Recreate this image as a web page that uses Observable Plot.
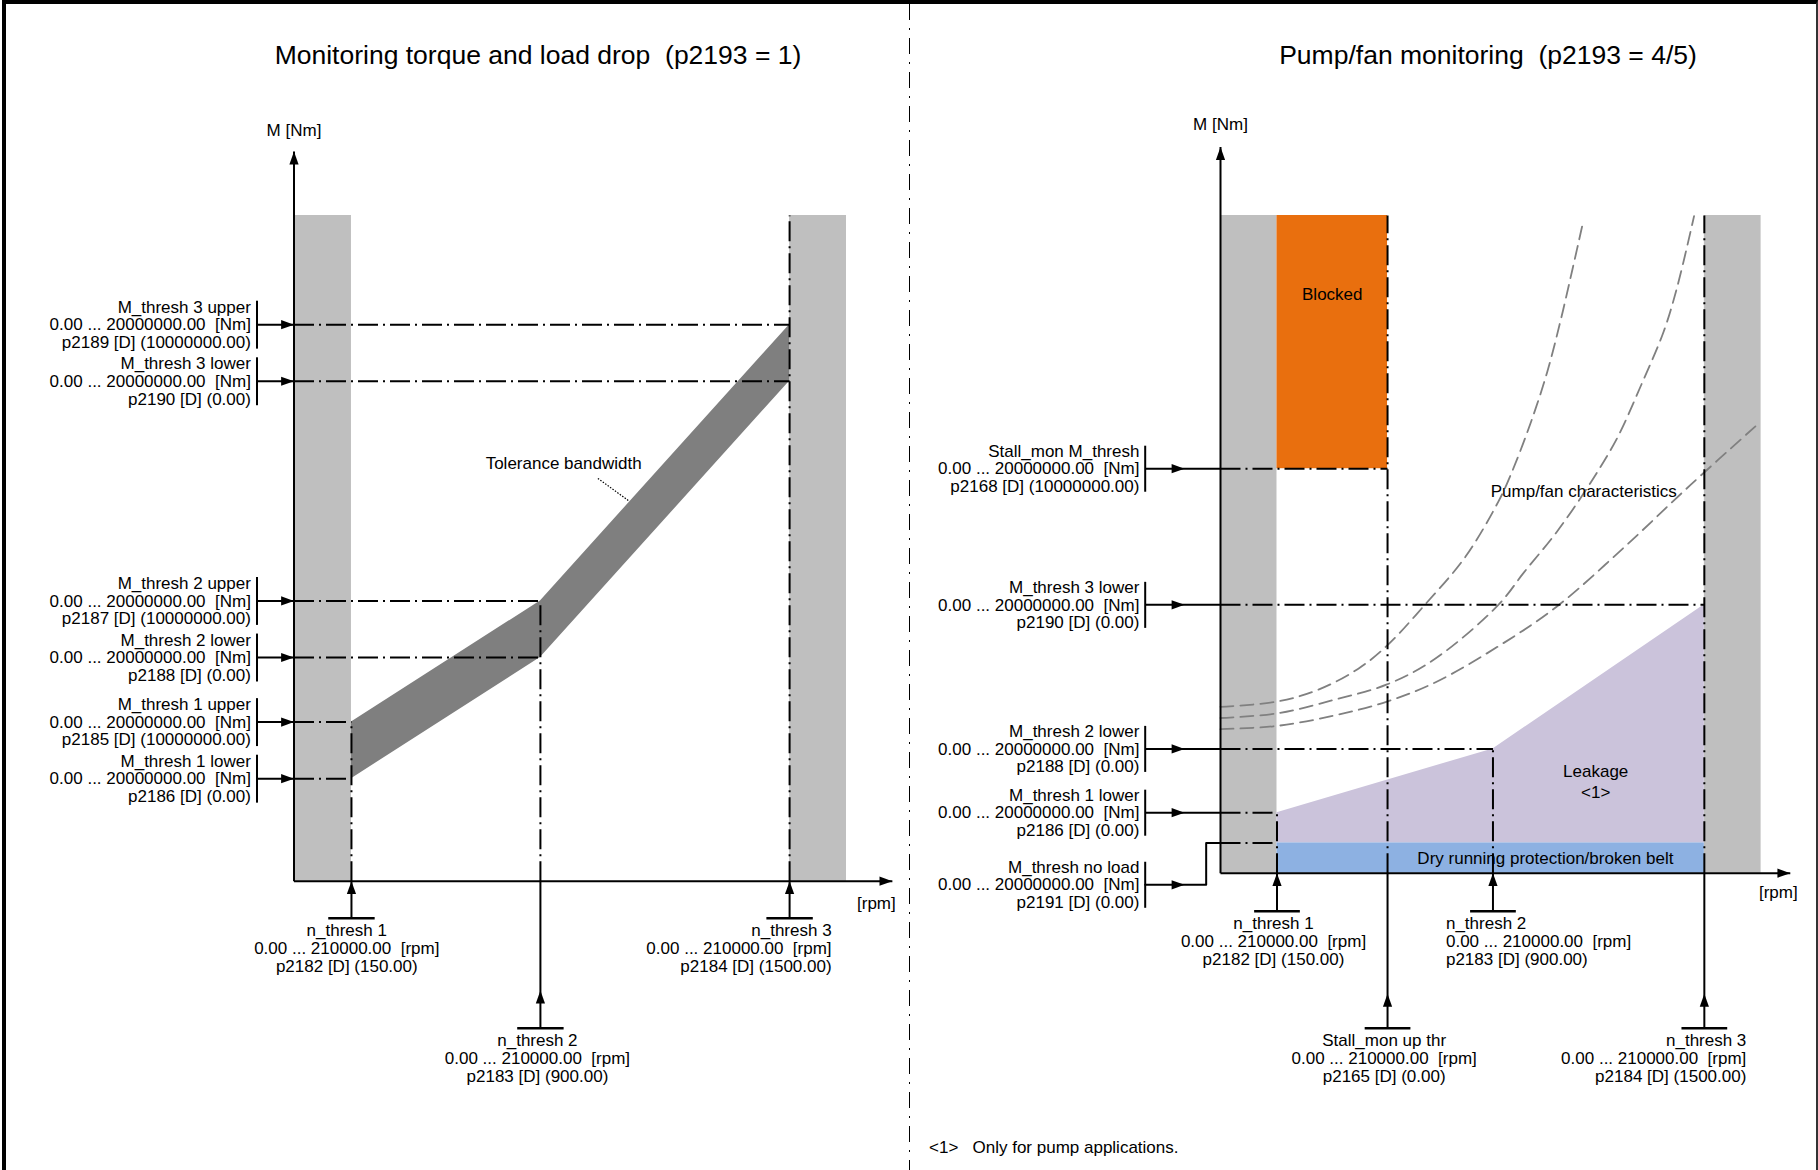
<!DOCTYPE html>
<html>
<head>
<meta charset="utf-8">
<script src="https://cdn.jsdelivr.net/npm/d3@7"></script>
<script src="https://cdn.jsdelivr.net/npm/@observablehq/plot@0.6"></script>
<style>
  html, body { margin: 0; padding: 0; background: #fff; }
  #page { position: relative; width: 1818px; height: 1170px; overflow: hidden;
          font-family: "Liberation Sans", Arial, Helvetica, sans-serif; color: #000; }
  #left, #right { position: absolute; top: 0; }
  #left { left: 0; }
  #right { left: 909px; }
  svg text { white-space: pre; }
  .title { position: absolute; font-size: 26.5px; line-height: 1; white-space: pre;
           transform: translate(-50%, -50%); }
  .note { position: absolute; font-size: 17px; line-height: 1; white-space: pre; }
  #frame { position: absolute; left: 2px; top: 0; width: 1816px; height: 1170px; box-sizing: border-box;
           border-top: 4px solid #000; border-left: 4px solid #000; border-right: 2px solid #333; pointer-events: none; }
  #divider { position: absolute; left: 908.5px; top: 4px; width: 1.8px; height: 1166px;
             background: repeating-linear-gradient(to bottom, #000 0 16px, transparent 16px 24px, #000 24px 26px, transparent 26px 34px); }
</style>
</head>
<body>
<div id="page">
  <div id="left"></div>
  <div id="right"></div>
  <div id="divider"></div>
  <div id="frame"></div>
  <div class="title" style="left:538px; top:55px;">Monitoring torque and load drop  (p2193 = 1)</div>
  <div class="title" style="left:1488px; top:55px;">Pump/fan monitoring  (p2193 = 4/5)</div>
  <div class="note" style="left:929px; top:1139px;">&lt;1&gt;   Only for pump applications.</div>
</div>
<script>
// ================= DATA (schematic units: 0 = axis origin, 100 = edge of the grey limit bands) =================
const speedRangeText = "0.00 ... 210000.00  [rpm]";
const torqueRangeText = "0.00 ... 20000000.00  [Nm]";

// ---- Left: Monitoring torque and load drop (p2193 = 1)
const leftSpeedNames  = ["n_thresh 1", "n_thresh 2", "n_thresh 3"];
const leftSpeedParams = ["p2182 [D] (150.00)", "p2183 [D] (900.00)", "p2184 [D] (1500.00)"];
const leftSpeedPos    = [10.4, 44.6, 89.7];

const leftTorqueNames  = ["M_thresh 3 upper", "M_thresh 3 lower", "M_thresh 2 upper", "M_thresh 2 lower", "M_thresh 1 upper", "M_thresh 1 lower"];
const leftTorqueParams = ["p2189 [D] (10000000.00)", "p2190 [D] (0.00)", "p2187 [D] (10000000.00)", "p2188 [D] (0.00)", "p2185 [D] (10000000.00)", "p2186 [D] (0.00)"];
const leftTorquePos    = [83.6, 75.1, 42.1, 33.6, 23.9, 15.4];
const leftTorqueSpeedIndex = [2, 2, 1, 1, 0, 0];   // which speed threshold each torque threshold belongs to

// ---- Right: Pump/fan monitoring (p2193 = 4/5)
const rightSpeedNames  = ["n_thresh 1", "Stall_mon up thr", "n_thresh 2", "n_thresh 3"];
const rightSpeedParams = ["p2182 [D] (150.00)", "p2165 [D] (0.00)", "p2183 [D] (900.00)", "p2184 [D] (1500.00)"];
const rightSpeedPos    = [10.45, 30.9, 50.4, 89.5];

const rightTorqueNames  = ["Stall_mon M_thresh", "M_thresh 3 lower", "M_thresh 2 lower", "M_thresh 1 lower", "M_thresh no load"];
const rightTorqueParams = ["p2168 [D] (10000000.00)", "p2190 [D] (0.00)", "p2188 [D] (0.00)", "p2186 [D] (0.00)", "p2191 [D] (0.00)"];
const rightTorquePos    = [61.5, 40.8, 18.9, 9.2, 4.6];

// Pump/fan characteristics (three dashed curves)
const pumpCurve1Speed  = [0, 10.5, 18.1, 25.5, 30.8, 37.9, 45.3, 51.4, 53.6, 57.3, 60.4, 62.9, 65.1, 67.1];
const pumpCurve1Torque = [25.3, 26.1, 27.9, 31.1, 34.6, 40.9, 48.1, 56.5, 60.4, 68.3, 76.1, 84.0, 91.8, 99.1];
const pumpCurve2Speed  = [0, 10.5, 21.2, 30.8, 39.7, 51.4, 56.1, 62.3, 68.4, 73.4, 77.7, 82.0, 84.5, 87.6];
const pumpCurve2Torque = [23.6, 24.3, 26.4, 28.7, 32.6, 40.8, 45.7, 52.0, 59.3, 66.2, 74.0, 82.4, 89.2, 99.9];
const pumpCurve3Speed  = [0, 10.5, 21.2, 30.8, 39.7, 51.4, 62.3, 74.6, 86.9, 99.3];
const pumpCurve3Torque = [21.9, 22.4, 24.0, 26.1, 29.0, 34.5, 40.6, 49.5, 59.0, 68.2];

// ================= STYLE / LAYOUT =================
const FONT = '"Liberation Sans", Arial, Helvetica, sans-serif';
const FS = 17, LH = 1.04;
const GREY = "#bfbfbf", DARK = "#7f7f7f", ORANGE = "#e96f0e", LAVENDER = "#cbc3db", BLUE = "#8db1e2", CURVE = "#808080";
const DASHDOT = "20,5,2,5";

const arrowHead = { // filled triangle, tip at the origin, pointing to +x
  draw(ctx, size) {
    const r = Math.sqrt(size / Math.PI);
    ctx.moveTo(0, 0);
    ctx.lineTo(-2.8 * r, -r);
    ctx.lineTo(-2.8 * r, r);
    ctx.closePath();
  }
};

const leftLayout = {
  width: 909, mL: 293.5, mR: 63, mT: 215, mB: 289.3,
  yTip: 109.6, xTip: 108.3, nmDy: -21, rpmDx: -16, rpmDy: 22,
  labelX: -7.8, barX: -6.7, tipX: 0, barHalf: 3.6, speedBarHalf: 4.2,
  speed: [
    {anchor: "middle", dx: -4.7, barY: -5.56, tipY: 0},
    {anchor: "middle", dx: -3, barY: -22.08, tipY: -16.42},
    {anchor: "end", dx: 42, barY: -5.56, tipY: 0}
  ]
};
const rightLayout = {
  width: 909, mL: 311, mR: 57.4, mT: 215, mB: 297.3,
  yTip: 110.4, xTip: 105.4, nmDy: -22.7, rpmDx: -12, rpmDy: 19,
  labelX: -15.0, barX: -13.93, tipX: -6.66, barHalf: 3.5, speedBarHalf: 4.23,
  noLoadLabelY: -1.76, noLoadBendX: -2.65,
  speed: [
    {anchor: "middle", dx: -3.5, barY: -5.78, tipY: 0},
    {anchor: "middle", dx: -3.4, barY: -23.57, tipY: -18.34},
    {anchor: "start", dx: -47, barY: -5.78, tipY: 0},
    {anchor: "end", dx: 42, barY: -23.57, tipY: -18.34}
  ]
};

// ================= helpers =================
const solid = {stroke: "black", strokeWidth: 2};
const dashed = {stroke: "black", strokeWidth: 2, strokeDasharray: DASHDOT};
const seg = (rows, opts) => Plot.link(rows, {x1: "x1", y1: "y1", x2: "x2", y2: "y2", ...opts});
const heads = (rows, opts = {}) => Plot.dot(rows, {x: "x", y: "y", rotate: "rot", symbol: arrowHead, r: 4.6, fill: "black", stroke: "none", ...opts});

function axesMarks(L) {
  return [
    seg([{x1: 0, y1: 0, x2: 0, y2: L.yTip}, {x1: 0, y1: 0, x2: L.xTip, y2: 0}], solid),
    heads([{x: 0, y: L.yTip, rot: -90}, {x: L.xTip, y: 0, rot: 0}]),
    Plot.text([{x: 0, y: L.yTip, t: "M [Nm]"}], {x: "x", y: "y", text: "t", dy: L.nmDy, fontSize: FS}),
    Plot.text([{x: L.xTip, y: 0, t: "[rpm]"}], {x: "x", y: "y", text: "t", dx: L.rpmDx, dy: L.rpmDy, fontSize: FS})
  ];
}

function torqueLabelMarks(L, rows) {
  return [
    seg(rows.map(d => ({x1: L.barX, x2: L.barX, y1: d.ly - L.barHalf, y2: d.ly + L.barHalf})), solid),
    Plot.text(rows, {x: () => L.labelX, y: "ly", text: "label", textAnchor: "end", lineAnchor: "middle", lineHeight: LH, fontSize: FS})
  ];
}

function speedLabelMarks(L, rows) {
  return [
    seg(rows.map(d => ({x1: d.n, x2: d.n, y1: 0, y2: d.barY})), solid),
    seg(rows.map(d => ({x1: d.n - L.speedBarHalf, x2: d.n + L.speedBarHalf, y1: d.barY, y2: d.barY})), {stroke: "black", strokeWidth: 2.5}),
    heads(rows.map(d => ({x: d.n, y: d.tipY, rot: -90}))),
    ...rows.map(d => Plot.text([d], {x: "n", y: "barY", text: "label", textAnchor: d.anchor, dx: d.dx, dy: 5.6,
                                      lineAnchor: "top", lineHeight: LH, fontSize: FS}))
  ];
}

function basePlot(L, marks) {
  return Plot.plot({
    width: L.width, height: 1170,
    marginLeft: L.mL, marginRight: L.mR, marginTop: L.mT, marginBottom: L.mB,
    x: {domain: [0, 100], axis: null},
    y: {domain: [0, 100], axis: null},
    style: {fontFamily: FONT, fontSize: FS + "px", color: "#000", background: "transparent", overflow: "visible"},
    marks
  });
}

// ================= LEFT PANEL =================
{
  const L = leftLayout;
  const [n1, n2, n3] = leftSpeedPos;
  const [m3u, m3l, m2u, m2l, m1u, m1l] = leftTorquePos;
  const torqueRows = leftTorquePos.map((m, i) => ({
    ly: m, m, nx: leftSpeedPos[leftTorqueSpeedIndex[i]],
    label: `${leftTorqueNames[i]}\n${torqueRangeText}\n${leftTorqueParams[i]}`
  }));
  const speedRows = leftSpeedPos.map((n, i) => ({
    n, ...L.speed[i], label: `${leftSpeedNames[i]}\n${speedRangeText}\n${leftSpeedParams[i]}`
  }));
  const tolerance = [{n: n1, lo: m1l, hi: m1u}, {n: n2, lo: m2l, hi: m2u}, {n: n3, lo: m3l, hi: m3u}];
  const verticalTops = [m1u, m2u, 100];

  const chart = basePlot(L, [
    Plot.rect([{x1: 0, x2: n1}, {x1: n3, x2: 100}], {x1: "x1", x2: "x2", y1: () => 0, y2: () => 100, fill: GREY}),
    Plot.areaY(tolerance, {x: "n", y1: "lo", y2: "hi", fill: DARK, curve: "linear"}),
    seg(torqueRows.map(d => ({x1: 0, x2: d.nx, y1: d.m, y2: d.m})), dashed),
    seg(leftSpeedPos.map((n, i) => ({x1: n, x2: n, y1: 0, y2: verticalTops[i]})), dashed),
    ...axesMarks(L),
    seg(torqueRows.map(d => ({x1: L.barX, x2: 0, y1: d.m, y2: d.m})), solid),
    heads(torqueRows.map(d => ({x: L.tipX, y: d.m, rot: 0}))),
    ...torqueLabelMarks(L, torqueRows),
    ...speedLabelMarks(L, speedRows),
    Plot.text([{x: 48.8, y: 62.8, t: "Tolerance bandwidth"}], {x: "x", y: "y", text: "t", fontSize: FS}),
    seg([{x1: 55.0, y1: 60.5, x2: 60.5, y2: 57.2}], {stroke: "black", strokeWidth: 1.2, strokeDasharray: "1.5,1.5"})
  ]);
  document.getElementById("left").appendChild(chart);
}

// ================= RIGHT PANEL =================
{
  const L = rightLayout;
  const [n1, nStall, n2, n3] = rightSpeedPos;
  const [mStall, m3l, m2l, m1l, m0] = rightTorquePos;
  const ends = [nStall, n3, n2, n1, n1];
  const torqueRows = rightTorquePos.map((m, i) => ({
    m, ly: i === 4 ? L.noLoadLabelY : m, nx: ends[i],
    label: `${rightTorqueNames[i]}\n${torqueRangeText}\n${rightTorqueParams[i]}`
  }));
  const speedRows = rightSpeedPos.map((n, i) => ({
    n, ...L.speed[i], label: `${rightSpeedNames[i]}\n${speedRangeText}\n${rightSpeedParams[i]}`
  }));
  const verticalTops = [m1l, 100, m2l, 100];
  const leakage = [{n: n1, lo: m0, hi: m1l}, {n: n2, lo: m0, hi: m2l}, {n: n3, lo: m0, hi: m3l}];
  const curves = [
    pumpCurve1Speed.map((x, i) => ({c: 1, x, y: pumpCurve1Torque[i]})),
    pumpCurve2Speed.map((x, i) => ({c: 2, x, y: pumpCurve2Torque[i]})),
    pumpCurve3Speed.map((x, i) => ({c: 3, x, y: pumpCurve3Torque[i]}))
  ].flat();
  const direct = torqueRows.slice(0, 4);
  const noLoad = torqueRows[4];

  const chart = basePlot(L, [
    Plot.rect([{x1: 0, x2: n1}, {x1: n3, x2: 100}], {x1: "x1", x2: "x2", y1: () => 0, y2: () => 100, fill: GREY}),
    Plot.rect([{x1: n1, x2: nStall, y1: mStall, y2: 100}], {x1: "x1", x2: "x2", y1: "y1", y2: "y2", fill: ORANGE}),
    Plot.areaY(leakage, {x: "n", y1: "lo", y2: "hi", fill: LAVENDER, curve: "linear"}),
    Plot.rect([{x1: n1, x2: n3, y1: 0, y2: m0}], {x1: "x1", x2: "x2", y1: "y1", y2: "y2", fill: BLUE}),
    Plot.line(curves, {x: "x", y: "y", z: "c", stroke: CURVE, strokeWidth: 1.8, strokeDasharray: "13,7", curve: "catmull-rom"}),
    seg(torqueRows.map(d => ({x1: 0, x2: d.nx, y1: d.m, y2: d.m})), dashed),
    seg(rightSpeedPos.map((n, i) => ({x1: n, x2: n, y1: 0, y2: verticalTops[i]})), dashed),
    ...axesMarks(L),
    seg(direct.map(d => ({x1: L.barX, x2: 0, y1: d.m, y2: d.m})), solid),
    Plot.line([
      {x: L.barX, y: noLoad.ly}, {x: L.noLoadBendX, y: noLoad.ly},
      {x: L.noLoadBendX, y: noLoad.m}, {x: 0, y: noLoad.m}
    ], {x: "x", y: "y", stroke: "black", strokeWidth: 2}),
    heads(torqueRows.map(d => ({x: L.tipX, y: d.ly, rot: 0}))),
    ...torqueLabelMarks(L, torqueRows),
    ...speedLabelMarks(L, speedRows),
    Plot.text([{x: (n1 + nStall) / 2, y: 88.0, t: "Blocked"}], {x: "x", y: "y", text: "t", fontSize: FS}),
    Plot.text([{x: 67.2, y: 58.05, t: "Pump/fan characteristics"}], {x: "x", y: "y", text: "t", fontSize: FS}),
    Plot.text([{x: 69.4, y: 15.5, t: "Leakage"}, {x: 69.4, y: 12.2, t: "<1>"}], {x: "x", y: "y", text: "t", fontSize: FS}),
    Plot.text([{x: 60.1, y: 2.24, t: "Dry running protection/broken belt"}], {x: "x", y: "y", text: "t", fontSize: FS})
  ]);
  document.getElementById("right").appendChild(chart);
}
</script>
</body>
</html>
